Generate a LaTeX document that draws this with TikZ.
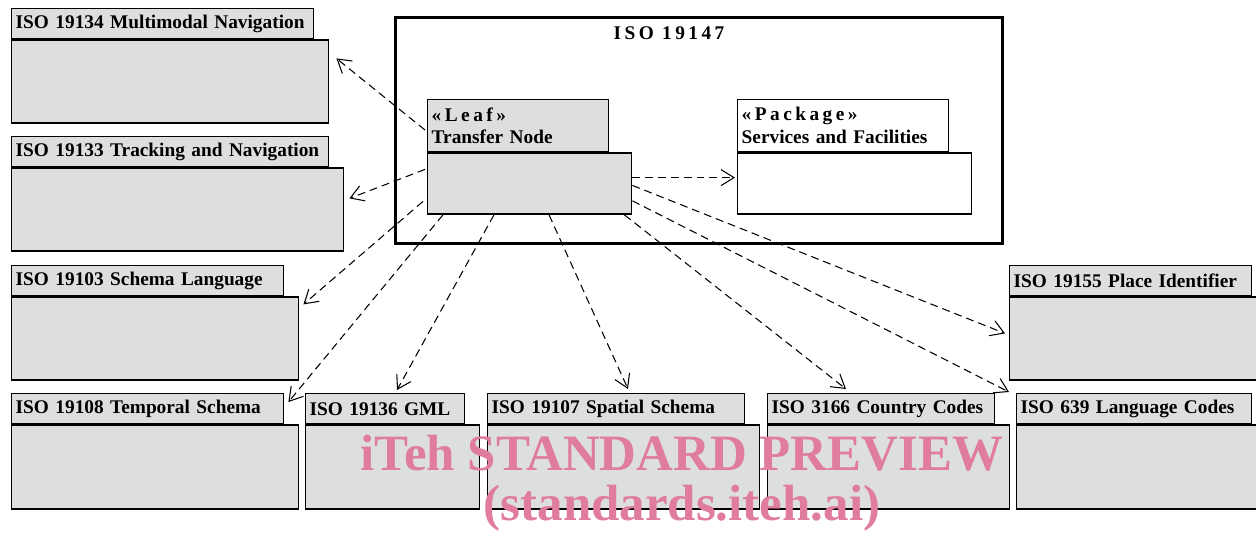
\documentclass[tikz,border=0pt]{standalone}
\usepackage{fontspec}
\setmainfont{Liberation Serif}
\usepackage{xcolor}
\usetikzlibrary{arrows.meta}
\definecolor{pkggrey}{RGB}{221,222,224}
\definecolor{wmpink}{RGB}{224,124,158}
\tikzset{
  every picture/.style={line join=miter, line cap=butt, >=Stealth},
  pkgtab/.style={draw, line width=0.8pt, rectangle, anchor=north west, inner xsep=0.08cm, inner ysep=0pt, align=left, font=\fontsize{11}{13}\selectfont\bfseries},
  pkgbody/.style={draw, line width=0.8pt, rectangle, anchor=north west, inner sep=0pt},
  pkgfill/.style={fill=pkggrey},
  pkgwhite/.style={fill=white},
  dep/.style={dashed, dash pattern=on 4.5pt off 2.8pt, line width=0.6pt, -{Straight Barb[length=2.6mm,width=3.2mm]}},
  spaced/.style={font=\fontsize{11}{13}\selectfont\bfseries\addfontfeature{LetterSpace=18}},
  wmark/.style={text=wmpink, inner sep=0pt, anchor=base, font=\fontsize{29}{35}\selectfont\bfseries},
}
% package symbol: tab on top of a body
\newcommand{\umlpkg}[9][pkgfill]{%
  \pgfmathsetmacro\pkgtw{#5*0.02-0.16}%
  \node[pkgtab,#1,text width=\pkgtw cm,minimum height=#6*0.02cm] (#2t) at (#3,#4) {#9};
  \node[pkgbody,#1,minimum width=#7*0.02cm,minimum height=#8*0.02cm] (#2) at (#2t.south west) {};
}

\begin{document}
\begin{tikzpicture}[x=0.02cm,y=-0.02cm]
\useasboundingbox (0,0) rectangle (1256,532);

% ISO 19147 frame
\node[draw, line width=1.7pt, anchor=north west, minimum width=607*0.02cm, minimum height=226*0.02cm, inner sep=0pt] (iso147) at (394,16) {};
\node[spaced, anchor=base] (iso147title) at (669,39) {ISO 19147};

\umlpkg{tn}{427}{99}{181}{52}{204}{61}{{\addfontfeature{LetterSpace=18}«Leaf»}\\Transfer Node}
\umlpkg[pkgwhite]{sf}{737}{99}{211}{52}{234}{61}{{\addfontfeature{LetterSpace=18}«Package»}\\Services and Facilities}

% packages outside
\umlpkg{mmn}{11}{8}{302}{30}{317}{83}{ISO 19134 Multimodal Navigation}
\umlpkg{trk}{11}{136}{317}{30}{332}{83}{ISO 19133 Tracking and Navigation}
\umlpkg{sch}{11}{265}{272}{30}{287}{83}{ISO 19103 Schema Language}
\umlpkg{tmp}{11}{393}{272}{30}{287}{84}{ISO 19108 Temporal Schema}
\umlpkg{gml}{305}{393}{159}{30}{174}{84}{ISO 19136 GML}
\umlpkg{spa}{487}{393}{257}{30}{272}{84}{ISO 19107 Spatial Schema}
\umlpkg{ctry}{767}{393}{227}{30}{242}{84}{ISO 3166 Country Codes}
\umlpkg{lang}{1016}{393}{235}{30}{250}{84}{ISO 639 Language Codes}
\umlpkg{plc}{1009}{265}{242}{30}{257}{83}{ISO 19155 Place Identifier}

% dependencies
\draw[dep] ([shift={(-2,31)}]tnt.north west) -- ([shift={(7,19)}]mmn.north east);
\draw[dep] ([shift={(-2,17)}]tn.north west) -- ([shift={(5,31)}]trk.north east);
\draw[dep] ([shift={(-4,49)}]tn.north west) -- ([shift={(4,8)}]sch.north east);
\draw[dep] ([shift={(16,0)}]tn.south west) -- ([shift={(4,9)}]tmpt.north east);
\draw[dep] ([shift={(67,0)}]tn.south west) -- ([shift={(92,-3)}]gmlt.north west);
\draw[dep] ([shift={(122,0)}]tn.south west) -- ([shift={(141,-4)}]spat.north west);
\draw[dep] ([shift={(-8,0)}]tn.south east) -- ([shift={(79,-4)}]ctryt.north west);
\draw[dep] ([shift={(0,-14)}]tn.south east) -- ([shift={(-7,-1)}]langt.north west);
\draw[dep] ([shift={(0,33)}]tn.north east) -- ([shift={(-4,37)}]plc.north west);
\draw[dep] ([shift={(0,-6)}]tn.east) -- ([shift={(-2,-6)}]sf.west);

% watermark
\node[wmark] (wm1) at (682,470) {iTeh STANDARD PREVIEW};
\node[wmark] (wm2) at (682,520) {(standards.iteh.ai)};
\end{tikzpicture}
\end{document}
